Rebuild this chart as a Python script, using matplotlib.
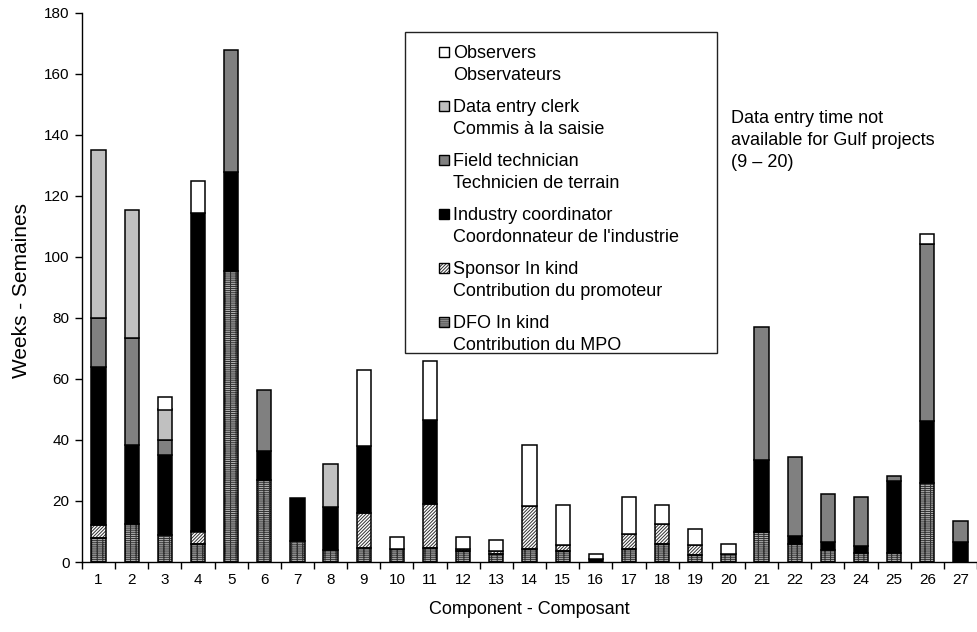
import numpy as np
import matplotlib
matplotlib.use("Agg")
import matplotlib.pyplot as plt
from matplotlib.patches import Rectangle

plt.rcParams['font.family'] = ['Liberation Sans', 'DejaVu Sans']
plt.rcParams['hatch.linewidth'] = 0.7

components = [str(i) for i in range(1, 28)]

dfo_in_kind = [8, 12.5, 9, 6, 95.5, 27, 7, 4, 4.5, 4.2, 4.5, 3.5, 2.5, 4.4, 3.7, 0,
               4.1, 5.8, 2.2, 2.6, 10, 6, 4, 3, 3, 26, 0]
sponsor_in_kind = [4, 0, 0, 4, 0, 0, 0, 0, 11.5, 0, 14.5, 0.8, 1, 14, 2, 0,
                   5, 6.5, 3.5, 0, 0, 0, 0, 0, 0, 0, 0]
industry_coord = [52, 26, 26, 104.5, 32.5, 9.5, 14, 14, 22, 0, 27.5, 0, 0, 0, 0, 0.9,
                  0, 0, 0, 0, 23.3, 2.4, 2.4, 2.3, 23.5, 20.2, 6.4]
field_tech = [16, 35, 5, 0, 40, 20, 0, 0, 0, 0, 0, 0, 0, 0, 0, 0,
              0, 0, 0, 0, 43.8, 26, 16, 16, 1.8, 58, 7.2]
data_entry = [55, 42, 10, 0, 0, 0, 0, 14, 0, 0, 0, 0, 0, 0, 0, 0,
              0, 0, 0, 0, 0, 0, 0, 0, 0, 0, 0]
observers = [0, 0, 4, 10.5, 0, 0, 0, 0, 25, 4, 19.5, 4, 3.8, 20, 13, 1.6,
             12.3, 6.5, 5, 3.3, 0, 0, 0, 0, 0, 3.5, 0]

series_labels = [
    "Observers\nObservateurs",
    "Data entry clerk\nCommis à la saisie",
    "Field technician\nTechnicien de terrain",
    "Industry coordinator\nCoordonnateur de l'industrie",
    "Sponsor In kind\nContribution du promoteur",
    "DFO In kind\nContribution du MPO",
]

# stacking order bottom -> top: (values, facecolor, hatch, hatch colour, legend hatch)
stack = [
    (dfo_in_kind, '#b0b0b0', '--------|||', '#303030', '--------'),
    (sponsor_in_kind, '#ffffff', '//////////', '#303030', '//////////'),
    (industry_coord, '#000000', None, None, None),
    (field_tech, '#808080', None, None, None),
    (data_entry, '#c0c0c0', None, None, None),
    (observers, '#ffffff', None, None, None),
]

W, H = 977, 632
fig = plt.figure(figsize=(W / 100, H / 100), dpi=100)
ax = fig.add_axes([82 / W, 1 - 562 / H, (977 - 82) / W, (562 - 13) / H])

x = np.arange(1, len(components) + 1)
bar_w = 0.43
bottom = np.zeros(len(x))
for vals, fc, hatch, hc, _ in stack:
    v = np.asarray(vals, dtype=float)
    m = v > 0
    if hatch:
        ax.bar(x[m], v[m], bar_w, bottom=bottom[m], color=fc, hatch=hatch,
               edgecolor=hc, linewidth=0, zorder=2)
        ax.bar(x[m], v[m], bar_w, bottom=bottom[m], fill=False,
               edgecolor='black', linewidth=1.1, zorder=3)
    else:
        ax.bar(x[m], v[m], bar_w, bottom=bottom[m], color=fc,
               edgecolor='black', linewidth=1.1, zorder=3)
    bottom += v

ax.set_xlim(0.5, len(x) + 0.5)
ax.set_ylim(0, 180)
ax.set_yticks(np.arange(0, 181, 20))
ax.set_xticks(x)
ax.set_xticklabels(components)
ax.set_xticks(np.arange(0.5, len(x) + 1, 1), minor=True)
ax.tick_params(axis='x', which='major', length=0, pad=8, labelsize=11)
ax.tick_params(axis='x', which='minor', length=5, width=1, direction='out')
ax.tick_params(axis='y', length=5, width=1, direction='out', labelsize=11, pad=4)
for s in ('top', 'right'):
    ax.spines[s].set_visible(False)
for s in ('left', 'bottom'):
    ax.spines[s].set_linewidth(1)


def fx(px):
    return px / W


def fy(py):
    return 1 - py / H


fig.text(fx(22), fy(291), "Weeks - Semaines", rotation=90, ha='center',
         va='center', fontsize=15)
fig.text(fx(529), fy(610), "Component - Composant", ha='center', va='center',
         fontsize=13)

# legend box with entries listed top (Observers) to bottom (DFO)
fig.patches.append(Rectangle((fx(405), fy(353)), fx(717) - fx(405), fy(32) - fy(353),
                             transform=fig.transFigure, fill=False,
                             edgecolor='#222222', linewidth=1))
for i, (lab, (vals, fc, hatch, hc, lhatch)) in enumerate(zip(series_labels, stack[::-1])):
    top = 45 + 54 * i
    fig.patches.append(Rectangle((fx(439), fy(top + 12)), fx(10), fy(0) - fy(10),
                                 transform=fig.transFigure, facecolor=fc,
                                 hatch=lhatch, edgecolor=hc if hc else 'black',
                                 linewidth=0))
    fig.patches.append(Rectangle((fx(439), fy(top + 12)), fx(10), fy(0) - fy(10),
                                 transform=fig.transFigure, fill=False,
                                 edgecolor='black', linewidth=1))
    fig.text(fx(453), fy(top), lab, ha='left', va='top', fontsize=13,
             linespacing=1.38)

fig.text(fx(731), fy(110), "Data entry time not\navailable for Gulf projects\n(9 \u2013 20)",
         ha='left', va='top', fontsize=13, linespacing=1.38)

fig.savefig("out.png", dpi=100)
